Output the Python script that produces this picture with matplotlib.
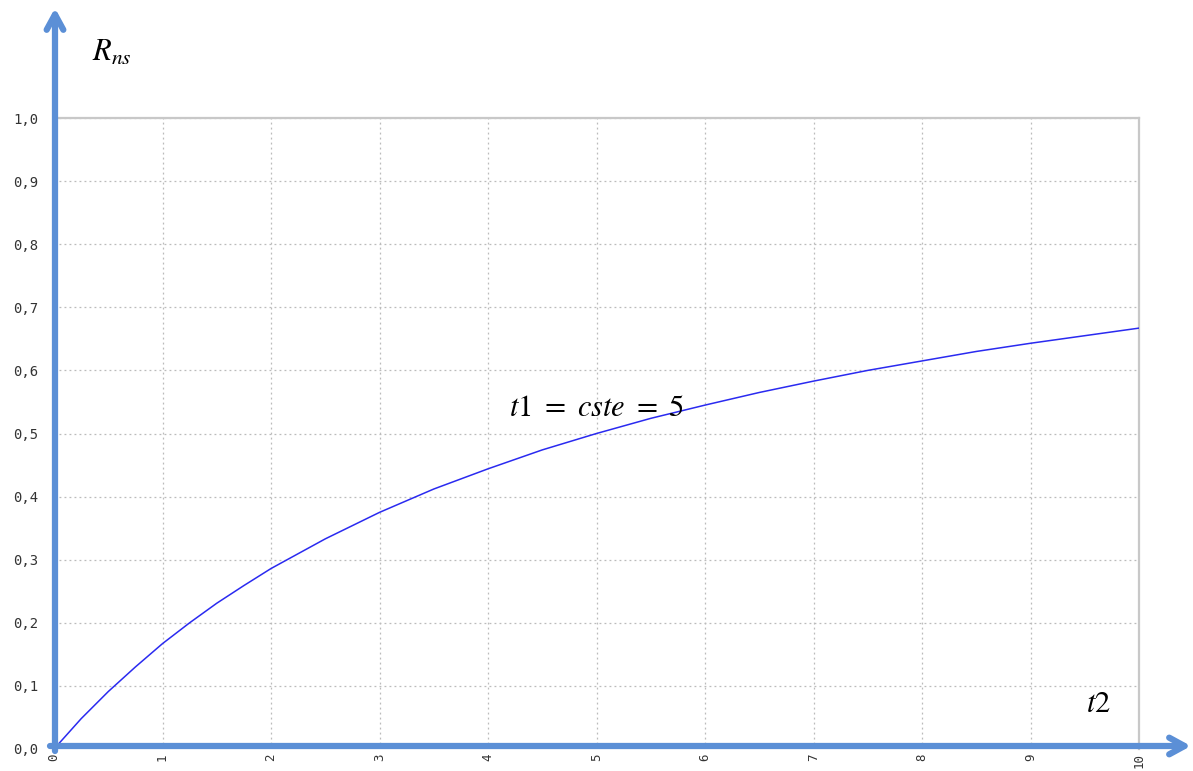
import matplotlib
matplotlib.use("Agg")
import matplotlib.pyplot as plt

t2_values = [0, 0.25, 0.5, 0.75, 1, 1.25, 1.5, 1.75, 2, 2.5, 3, 3.5, 4, 4.5, 5, 5.5, 6, 6.5,
             7, 7.5, 8, 8.5, 9, 9.5, 10]
rns_values = [0.0, 0.048, 0.091, 0.130, 0.167, 0.200, 0.231, 0.259, 0.286, 0.333, 0.375,
              0.412, 0.444, 0.474, 0.5, 0.524, 0.545, 0.565, 0.583, 0.6, 0.615, 0.63,
              0.643, 0.655, 0.667]
x_ticks = list(range(0, 11))
y_ticks = [0.0, 0.1, 0.2, 0.3, 0.4, 0.5, 0.6, 0.7, 0.8, 0.9, 1.0]
y_tick_labels = ["0,0", "0,1", "0,2", "0,3", "0,4", "0,5", "0,6", "0,7", "0,8", "0,9", "1,0"]

plt.rcParams['mathtext.fontset'] = 'stix'

W, H = 1193, 771
fig = plt.figure(figsize=(W / 100, H / 100), dpi=100)
ax = fig.add_axes([54 / W, (H - 749) / H, (1139 - 54) / W, (749 - 118) / H])

ax.plot(t2_values, rns_values, color="#2a2af0", lw=1.1, zorder=3)
ax.set_xlim(0, 10)
ax.set_ylim(0, 1.0)
ax.set_xticks(x_ticks)
ax.set_xticklabels([str(v) for v in x_ticks], rotation=90, family="DejaVu Sans Mono",
                   fontsize=9, color="#333333")
ax.set_yticks(y_ticks)
ax.set_yticklabels(y_tick_labels, family="DejaVu Sans Mono", fontsize=10, color="#333333")
ax.tick_params(length=0, pad=11)
ax.tick_params(axis='x', pad=3)
ax.grid(True, linestyle=(0, (1.5, 2.5)), color="#bbbbbb", lw=0.9)
for side in ["top", "right"]:
    ax.spines[side].set_color("#c8c8c8")
    ax.spines[side].set_linewidth(1.6)
for side in ["left", "bottom"]:
    ax.spines[side].set_visible(False)

blue = "#5b8fd6"
ax.annotate("", xy=(55 / W, (H - 8) / H), xytext=(55 / W, (H - 751) / H),
            xycoords="figure fraction", textcoords="figure fraction",
            arrowprops=dict(arrowstyle="->,head_length=1.1,head_width=0.6", color=blue, lw=4.5,
                            shrinkA=0, shrinkB=0), annotation_clip=False)
ax.annotate("", xy=(1191 / W, (H - 746) / H), xytext=(50 / W, (H - 746) / H),
            xycoords="figure fraction", textcoords="figure fraction",
            arrowprops=dict(arrowstyle="->,head_length=1.1,head_width=0.6", color=blue, lw=4.5,
                            shrinkA=0, shrinkB=0), annotation_clip=False)

fig.text(92 / W, (H - 52) / H, r"$R_{ns}$", fontsize=22, va="center", ha="left")
fig.text(1098 / W, (H - 704) / H, r"$t2$", fontsize=22, va="center", ha="center")
ax.text(5.0, 0.541, r"$t1\ =\ cste\ =\ 5$", fontsize=22, va="center", ha="center")

fig.savefig("out.png", dpi=100)
